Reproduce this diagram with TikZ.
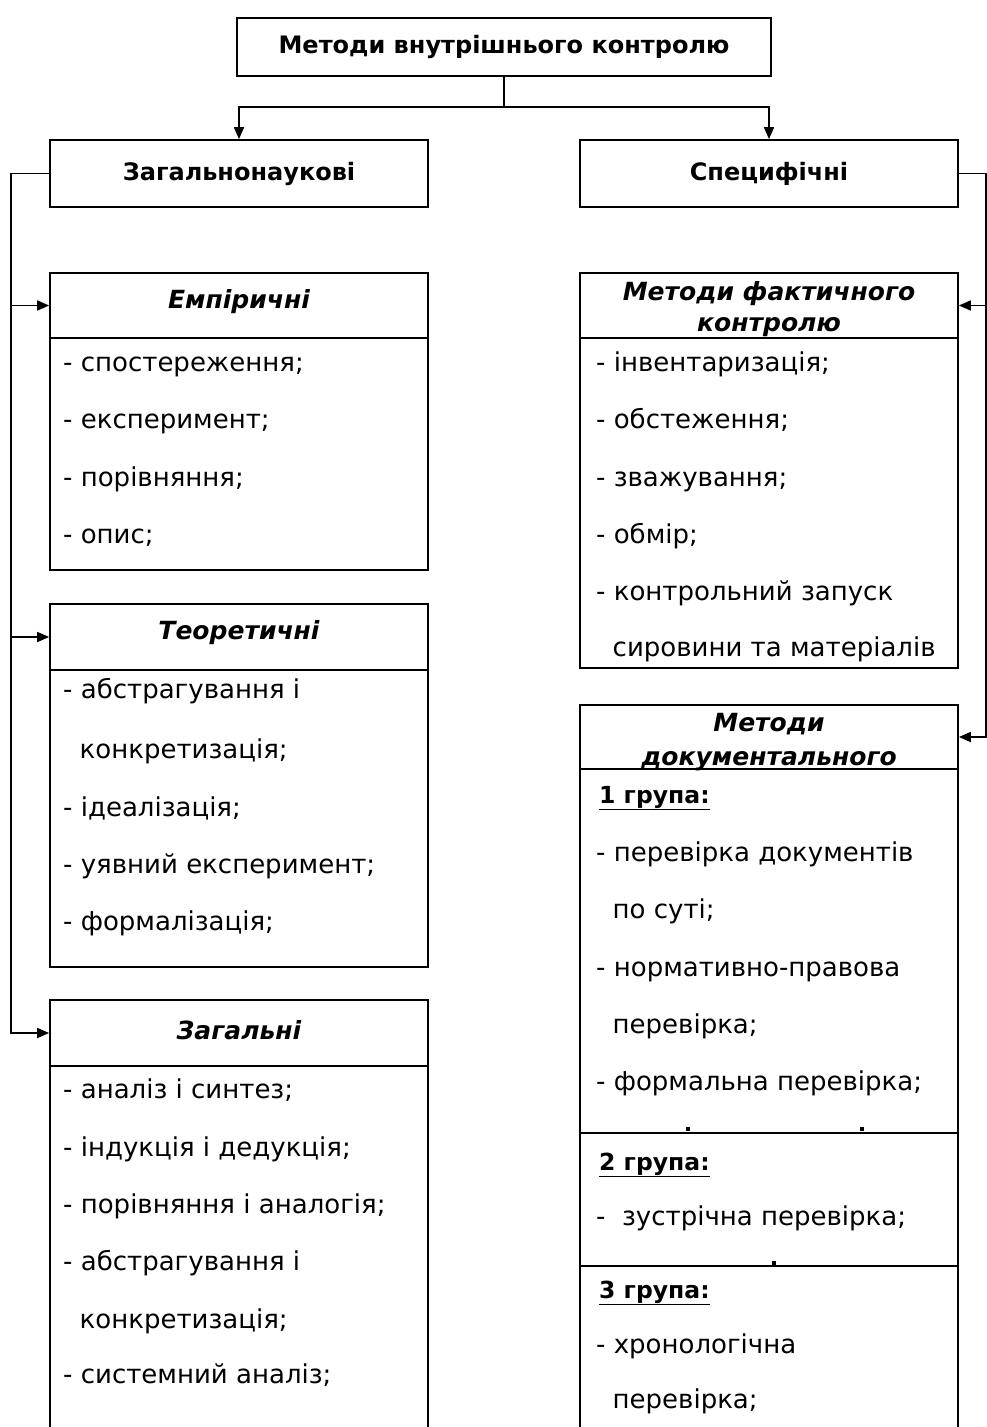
\documentclass[tikz,border=0pt]{standalone}
\usepackage{fontspec}
\setmainfont{DejaVu Sans}
\usetikzlibrary{arrows.meta,calc}
\tikzset{
  lw/.style={line width=1.7pt},
  box/.style={draw, lw, minimum width=378pt, inner sep=0pt, rectangle},
  ttl/.style={font=\fontsize{24}{28}\selectfont\bfseries},
  hdr/.style={font=\fontsize{25}{28}\selectfont\bfseries\itshape, align=center, inner sep=0pt},
  itm/.style={anchor=base west, inner sep=0pt, font=\fontsize{26}{30}\selectfont},
  grp/.style={anchor=base west, inner sep=0pt, font=\fontsize{23.5}{28}\selectfont\bfseries},
  arr/.style={lw, -{Triangle[length=12pt,width=10pt]}},
  conn/.style={lw},
  dotm/.style={fill=black, inner sep=0pt, minimum size=3.5pt, rectangle}
}
\begin{document}
\begin{tikzpicture}[x=1pt,y=-1pt]
\clip (0,0) rectangle (987,1427);
\fill[white] (0,0) rectangle (987,1427);
% top level
\node[box, minimum width=534pt, minimum height=58pt, ttl] (top) at (504,47) {Методи внутрішнього контролю};
\node[box, minimum height=67pt, ttl] (zag) at (239,173.5) {Загальнонаукові};
\node[box, minimum height=67pt, ttl] (spec) at (769,173.5) {Специфічні};
% left column
\node[box, minimum height=65pt] (emph) at (239,305.5) {};
\node[hdr] (empt) at (239,302) {Емпіричні};
\node[box, minimum height=232pt] (empb) at (239,454) {};
\node[itm] (e1) at (63,371) {- спостереження;};
\node[itm] (e2) at (63,428) {- експеримент;};
\node[itm] (e3) at (63,486) {- порівняння;};
\node[itm] (e4) at (63,543) {- опис;};

\node[box, minimum height=66pt] (teoh) at (239,637) {};
\node[hdr] (teot) at (239,633) {Теоретичні};
\node[box, minimum height=297pt] (teob) at (239,818.5) {};
\node[itm] (t1) at (63,698) {- абстрагування і};
\node[itm] (t2) at (63,758) {\ \ конкретизація;};
\node[itm] (t3) at (63,816) {- ідеалізація;};
\node[itm] (t4) at (63,873) {- уявний експеримент;};
\node[itm] (t5) at (63,930) {- формалізація;};

\node[box, minimum height=66pt] (zagh) at (239,1033) {};
\node[hdr] (zagt) at (239,1030) {Загальні};
\node[box, minimum height=380pt] (zagb) at (239,1256) {};
\node[itm] (z1) at (63,1098) {- аналіз і синтез;};
\node[itm] (z2) at (63,1156) {- індукція і дедукція;};
\node[itm] (z3) at (63,1213) {- порівняння і аналогія;};
\node[itm] (z4) at (63,1270) {- абстрагування і};
\node[itm] (z5) at (63,1328) {\ \ конкретизація;};
\node[itm] (z6) at (63,1383) {- системний аналіз;};

% right column
\node[box, minimum height=65pt] (facth) at (769,305.5) {};
\node[hdr] (factt) at (769,309) {Методи фактичного\\[3pt]контролю};
\node[box, minimum height=330pt] (factb) at (769,503) {};
\node[itm] (f1) at (596,371) {- інвентаризація;};
\node[itm] (f2) at (596,428) {- обстеження;};
\node[itm] (f3) at (596,486) {- зважування;};
\node[itm] (f4) at (596,543) {- обмір;};
\node[itm] (f5) at (596,600) {- контрольний запуск};
\node[itm] (f6) at (596,656) {\ \ сировини та матеріалів};

\node[box, minimum height=64pt] (doch) at (769,737) {};
\node[hdr] (doct) at (769,742) {Методи\\[6pt]документального};
\node[box, minimum height=364pt] (docb1) at (769,951) {};
\node[box, minimum height=133pt] (docb2) at (769,1199.5) {};
\node[box, minimum height=174pt] (docb3) at (769,1353) {};
\node[grp] (g1) at (599,803) {\underline{1 група:}};
\node[itm] (d1) at (596,861) {- перевірка документів};
\node[itm] (d2) at (596,918) {\ \ по суті;};
\node[itm] (d3) at (596,976) {- нормативно-правова};
\node[itm] (d4) at (596,1033) {\ \ перевірка;};
\node[itm] (d5) at (596,1090) {- формальна перевірка;};
\node[grp] (g2) at (599,1170) {\underline{2 група:}};
\node[itm] (d6) at (596,1225) {- \ зустрічна перевірка;};
\node[grp] (g3) at (599,1298) {\underline{3 група:}};
\node[itm] (d7) at (596,1353) {- хронологічна};
\node[itm] (d8) at (596,1408) {\ \ перевірка;};
\node[dotm] (k1) at (688,1129) {};
\node[dotm] (k2) at (862,1129) {};
\node[dotm] (k3) at (774,1263) {};

% connectors
\draw[conn] (top.south) -- ++(0,30) coordinate (tj);
\draw[arr] (tj) -| (zag.north);
\draw[arr] (tj) -| (spec.north);
\draw[arr] (zag.west) -- ++(-38,0) coordinate (lb) |- (zagh.west);
\draw[arr] (lb |- emph.west) -- (emph.west);
\draw[arr] (lb |- teoh.west) -- (teoh.west);
\draw[arr] (spec.east) -- ++(27,0) coordinate (rb) |- (doch.east);
\draw[arr] (rb |- facth.east) -- (facth.east);
\end{tikzpicture}
\end{document}
